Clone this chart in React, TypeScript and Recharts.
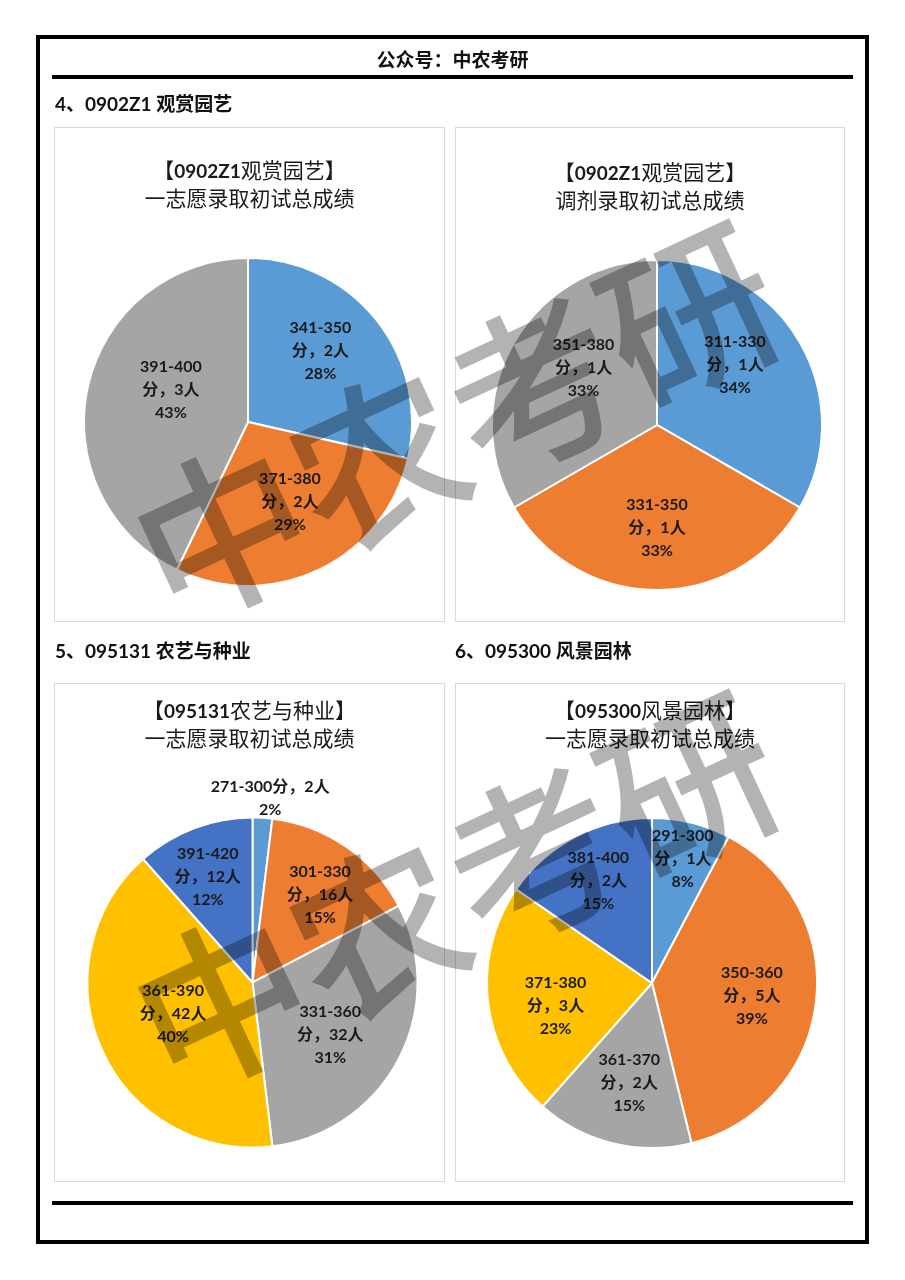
import React from 'react';
import { PieChart, Pie, Cell } from 'recharts';

// Office-theme colours used by the original sheets
const COLORS = ['#5B9BD5', '#ED7D31', '#A5A5A5', '#FFC000', '#4472C4'];

// 0902Z1 观赏园艺 一志愿
const hortFirstRanges = ['341-350', '371-380', '391-400'];
const hortFirstCounts = [2, 2, 3];
const hortFirstPcts = ['28%', '29%', '43%'];

// 0902Z1 观赏园艺 调剂
const hortAdjRanges = ['311-330', '331-350', '351-380'];
const hortAdjCounts = [1, 1, 1];
const hortAdjPcts = ['34%', '33%', '33%'];

// 095131 农艺与种业 一志愿
const agroRanges = ['271-300', '301-330', '331-360', '361-390', '391-420'];
const agroCounts = [2, 16, 32, 42, 12];
const agroPcts = ['2%', '15%', '31%', '40%', '12%'];

// 095300 风景园林 一志愿
const landRanges = ['291-300', '350-360', '361-370', '371-380', '381-400'];
const landCounts = [1, 5, 2, 3, 2];
const landPcts = ['8%', '39%', '15%', '23%', '15%'];

const FONT = "Lato, 'Noto Sans CJK SC', sans-serif";
const LINE = 23;

interface PieBoxProps {
  left: number;
  top: number;
  width: number;
  height: number;
  code: string;
  name: string;
  subtitle: string;
  titleY: number;
  ranges: string[];
  counts: number[];
  pcts: string[];
  cx: number;
  cy: number;
  r: number;
  labelR: number[];     // label distance as a share of the radius
  labelTurn: number[];  // small angular nudge, degrees
  outside?: number;     // slice whose label sits outside on one line
}

const PieBox: React.FC<PieBoxProps> = (p) => {
  const data = p.ranges.map((range, i) => ({ name: range, value: p.counts[i] }));

  const renderLabel = (props: any) => {
    const { cx, cy, midAngle, outerRadius, index } = props;
    const a = ((90 - midAngle + p.labelTurn[index]) * Math.PI) / 180;
    const R = outerRadius * p.labelR[index];
    const x = cx + R * Math.sin(a);
    const y = cy - R * Math.cos(a);
    const lines =
      p.outside === index
        ? [`${p.ranges[index]}分，${p.counts[index]}人`, p.pcts[index]]
        : [p.ranges[index], `分，${p.counts[index]}人`, p.pcts[index]];
    const start = y - ((lines.length - 1) * LINE) / 2;
    return (
      <text
        key={`lbl-${index}`}
        textAnchor="middle"
        fontFamily={FONT}
        fontSize={16}
        fontWeight={700}
        fill="#1a1a1a"
      >
        {lines.map((l, i) => (
          <tspan key={i} x={x} y={start + i * LINE + 5.5}>
            {l}
          </tspan>
        ))}
      </text>
    );
  };

  return (
    <div style={{ position: 'absolute', left: p.left, top: p.top, width: p.width, height: p.height }}>
      <div
        style={{
          position: 'absolute',
          inset: 0,
          border: '1px solid #d9d9d9',
          boxSizing: 'border-box',
        }}
      />
      <div
        style={{
          position: 'absolute',
          left: 0,
          width: p.width,
          top: p.titleY - 14,
          lineHeight: '27px',
          fontSize: 21,
          textAlign: 'center',
          color: '#1a1a1a',
          fontFamily: FONT,
          whiteSpace: 'nowrap',
        }}
      >
        <div>
          【<span style={{ fontWeight: 700, fontSize: 19 }}>{p.code}</span>
          {p.name}】
        </div>
        <div>{p.subtitle}</div>
      </div>
      <div style={{ position: 'absolute', left: 0, top: 0 }}>
        <PieChart width={p.width} height={p.height} margin={{ top: 0, right: 0, bottom: 0, left: 0 }}>
          <Pie
            data={data}
            dataKey="value"
            cx={p.cx}
            cy={p.cy}
            outerRadius={p.r}
            startAngle={90}
            endAngle={-270}
            stroke="#ffffff"
            strokeWidth={2}
            labelLine={false}
            label={renderLabel}
            isAnimationActive={false}
          >
            {data.map((d, i) => (
              <Cell key={`cell-${i}`} fill={COLORS[i]} />
            ))}
          </Pie>
        </PieChart>
      </div>
    </div>
  );
};

const sectionStyle: React.CSSProperties = {
  position: 'absolute',
  fontSize: 19,
  lineHeight: '20px',
  fontWeight: 700,
  color: '#111',
  fontFamily: FONT,
  whiteSpace: 'nowrap',
};

export default function App() {
  return (
    <div
      style={{
        position: 'absolute',
        left: 0,
        top: 0,
        width: 905,
        height: 1280,
        background: '#fff',
        fontFamily: FONT,
        overflow: 'hidden',
      }}
    >
      <div
        style={{
          position: 'absolute',
          left: 36,
          top: 35,
          width: 833,
          height: 1209,
          border: '4px solid #000',
          boxSizing: 'border-box',
        }}
      />
      <div style={{ ...sectionStyle, left: 36, width: 833, top: 50, textAlign: 'center' }}>公众号：中农考研</div>
      <div style={{ position: 'absolute', left: 52, top: 75, width: 801, height: 4, background: '#000' }} />
      <div style={{ position: 'absolute', left: 52, top: 1201, width: 801, height: 4, background: '#000' }} />

      <div style={{ ...sectionStyle, left: 55, top: 94 }}>4、0902Z1 观赏园艺</div>
      <div style={{ ...sectionStyle, left: 55, top: 641 }}>5、095131 农艺与种业</div>
      <div style={{ ...sectionStyle, left: 455, top: 641 }}>6、095300 风景园林</div>

      <PieBox
        left={54}
        top={127}
        width={391}
        height={495}
        code="0902Z1"
        name="观赏园艺"
        subtitle="一志愿录取初试总成绩"
        titleY={43}
        ranges={hortFirstRanges}
        counts={hortFirstCounts}
        pcts={hortFirstPcts}
        cx={194}
        cy={295}
        r={164}
        labelR={[0.62, 0.55, 0.51]}
        labelTurn={[-6, -2, 10]}
      />
      <PieBox
        left={455}
        top={127}
        width={390}
        height={495}
        code="0902Z1"
        name="观赏园艺"
        subtitle="调剂录取初试总成绩"
        titleY={45}
        ranges={hortAdjRanges}
        counts={hortAdjCounts}
        pcts={hortAdjPcts}
        cx={202}
        cy={298}
        r={165}
        labelR={[0.6, 0.62, 0.565]}
        labelTurn={[-8, 0, 8]}
      />
      <PieBox
        left={54}
        top={683}
        width={391}
        height={499}
        code="095131"
        name="农艺与种业"
        subtitle="一志愿录取初试总成绩"
        titleY={27}
        ranges={agroRanges}
        counts={agroCounts}
        pcts={agroPcts}
        cx={198.5}
        cy={299.5}
        r={165}
        labelR={[1.126, 0.67, 0.567, 0.516, 0.7]}
        labelTurn={[2, 3, 6, 3, -2]}
        outside={0}
      />
      <PieBox
        left={455}
        top={683}
        width={390}
        height={499}
        code="095300"
        name="风景园林"
        subtitle="一志愿录取初试总成绩"
        titleY={27}
        ranges={landRanges}
        counts={landCounts}
        pcts={landPcts}
        cx={197}
        cy={300}
        r={165}
        labelR={[0.78, 0.61, 0.62, 0.6, 0.7]}
        labelTurn={[0, 0, -1, -6, 0]}
      />

      {/* watermark */}
      <svg
        width={905}
        height={1280}
        style={{ position: 'absolute', left: 0, top: 0, pointerEvents: 'none', mixBlendMode: 'multiply' }}
      >
        {[
          [452, 415],
          [452, 885],
        ].map(([x, y], i) => (
          <text
            key={i}
            x={x}
            y={y}
            transform={`rotate(-25 ${x} ${y})`}
            textAnchor="middle"
            dominantBaseline="central"
            fontSize={172}
            fontWeight={500}
            fontFamily="'Noto Sans CJK SC', sans-serif"
            fill="#b3b3b3"
          >
            中农考研
          </text>
        ))}
      </svg>
    </div>
  );
}
